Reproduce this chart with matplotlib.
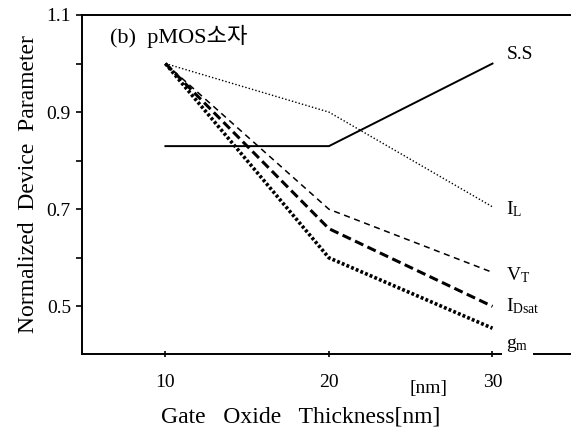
import numpy as np
import matplotlib
matplotlib.use("Agg")
from matplotlib import pyplot as plt

plt.rcParams['font.family'] = ['Liberation Serif', 'Noto Sans CJK KR']
plt.rcParams['mathtext.fontset'] = 'custom'
plt.rcParams['mathtext.rm'] = 'Liberation Serif'
plt.rcParams['mathtext.it'] = 'Liberation Serif'

thickness = [10, 20, 30]
ss = [0.83, 0.83, 1.0]
i_l = [1.0, 0.90, 0.705]
v_t = [1.0, 0.70, 0.57]
i_dsat = [1.0, 0.66, 0.50]
g_m = [1.0, 0.60, 0.455]

series_labels = ["S.S", r"$\mathrm{I_{L}}$", r"$\mathrm{V_{T}}$", r"$\mathrm{I_{Dsat}}$", r"$\mathrm{g_{m}}$"]

fig = plt.figure(figsize=(5.71, 4.32), dpi=100)
ax = fig.add_axes([0.1436, 0.1806, 0.8564, 0.7847])

ax.plot(thickness, ss, color='black', linestyle='-', linewidth=1.4)
ax.plot(thickness, i_l, color='black', linestyle=(0, (1, 1.5)), linewidth=1.0)
ax.plot(thickness, v_t, color='black', linestyle=(0, (4, 3)), linewidth=1.1)
ax.plot(thickness, i_dsat, color='black', linestyle=(0, (3, 1.5)), linewidth=2.2)
ax.plot(thickness, g_m, color='black', linestyle=(0, (0.8, 0.6)), linewidth=2.6)

ax.set_xlim(4.9, 34.8)
ax.set_ylim(0.402, 1.1)

ax.spines['right'].set_visible(False)
for s in ['left', 'top', 'bottom']:
    ax.spines[s].set_linewidth(1.4)

ax.set_xticks(thickness)
ax.set_yticks([0.5, 0.7, 0.9, 1.1])
ax.set_yticklabels(["0.5", "0.7", "0.9", "1.1"])
ax.set_yticks([0.6, 0.8, 1.0], minor=True)
ax.tick_params(axis='y', which='both', direction='out', length=4, width=1.2, labelsize=14, pad=4)
ax.tick_params(axis='x', which='major', direction='inout', length=5, width=1.2, labelsize=14, pad=12)

# series labels at right end
label_y = [1.018, 0.70, 0.565, 0.50, 0.42]
for lab, yv in zip(series_labels[:-1], label_y[:-1]):
    ax.text(30.85, yv, lab, fontsize=14, va='center', ha='left')
# g_m label sits on a white patch that breaks the bottom spine
ax.text(30.85, label_y[-1], series_labels[-1], fontsize=14, va='center', ha='left',
        bbox=dict(facecolor='white', edgecolor='none', pad=3), clip_on=False)

ax.text(6.6, 1.055, "(b)  pMOS소자", fontsize=16, va='center', ha='left')
ax.text(26.1, 0.33, "[nm]", fontsize=14, va='center', ha='center', clip_on=False)

ax.set_xlabel("Gate   Oxide   Thickness[nm]", fontsize=17, labelpad=10)
ax.xaxis.set_label_coords(0.448, -0.155)
ax.set_ylabel("Normalized  Device  Parameter", fontsize=17, labelpad=5)

fig.savefig("out.png", dpi=100)
